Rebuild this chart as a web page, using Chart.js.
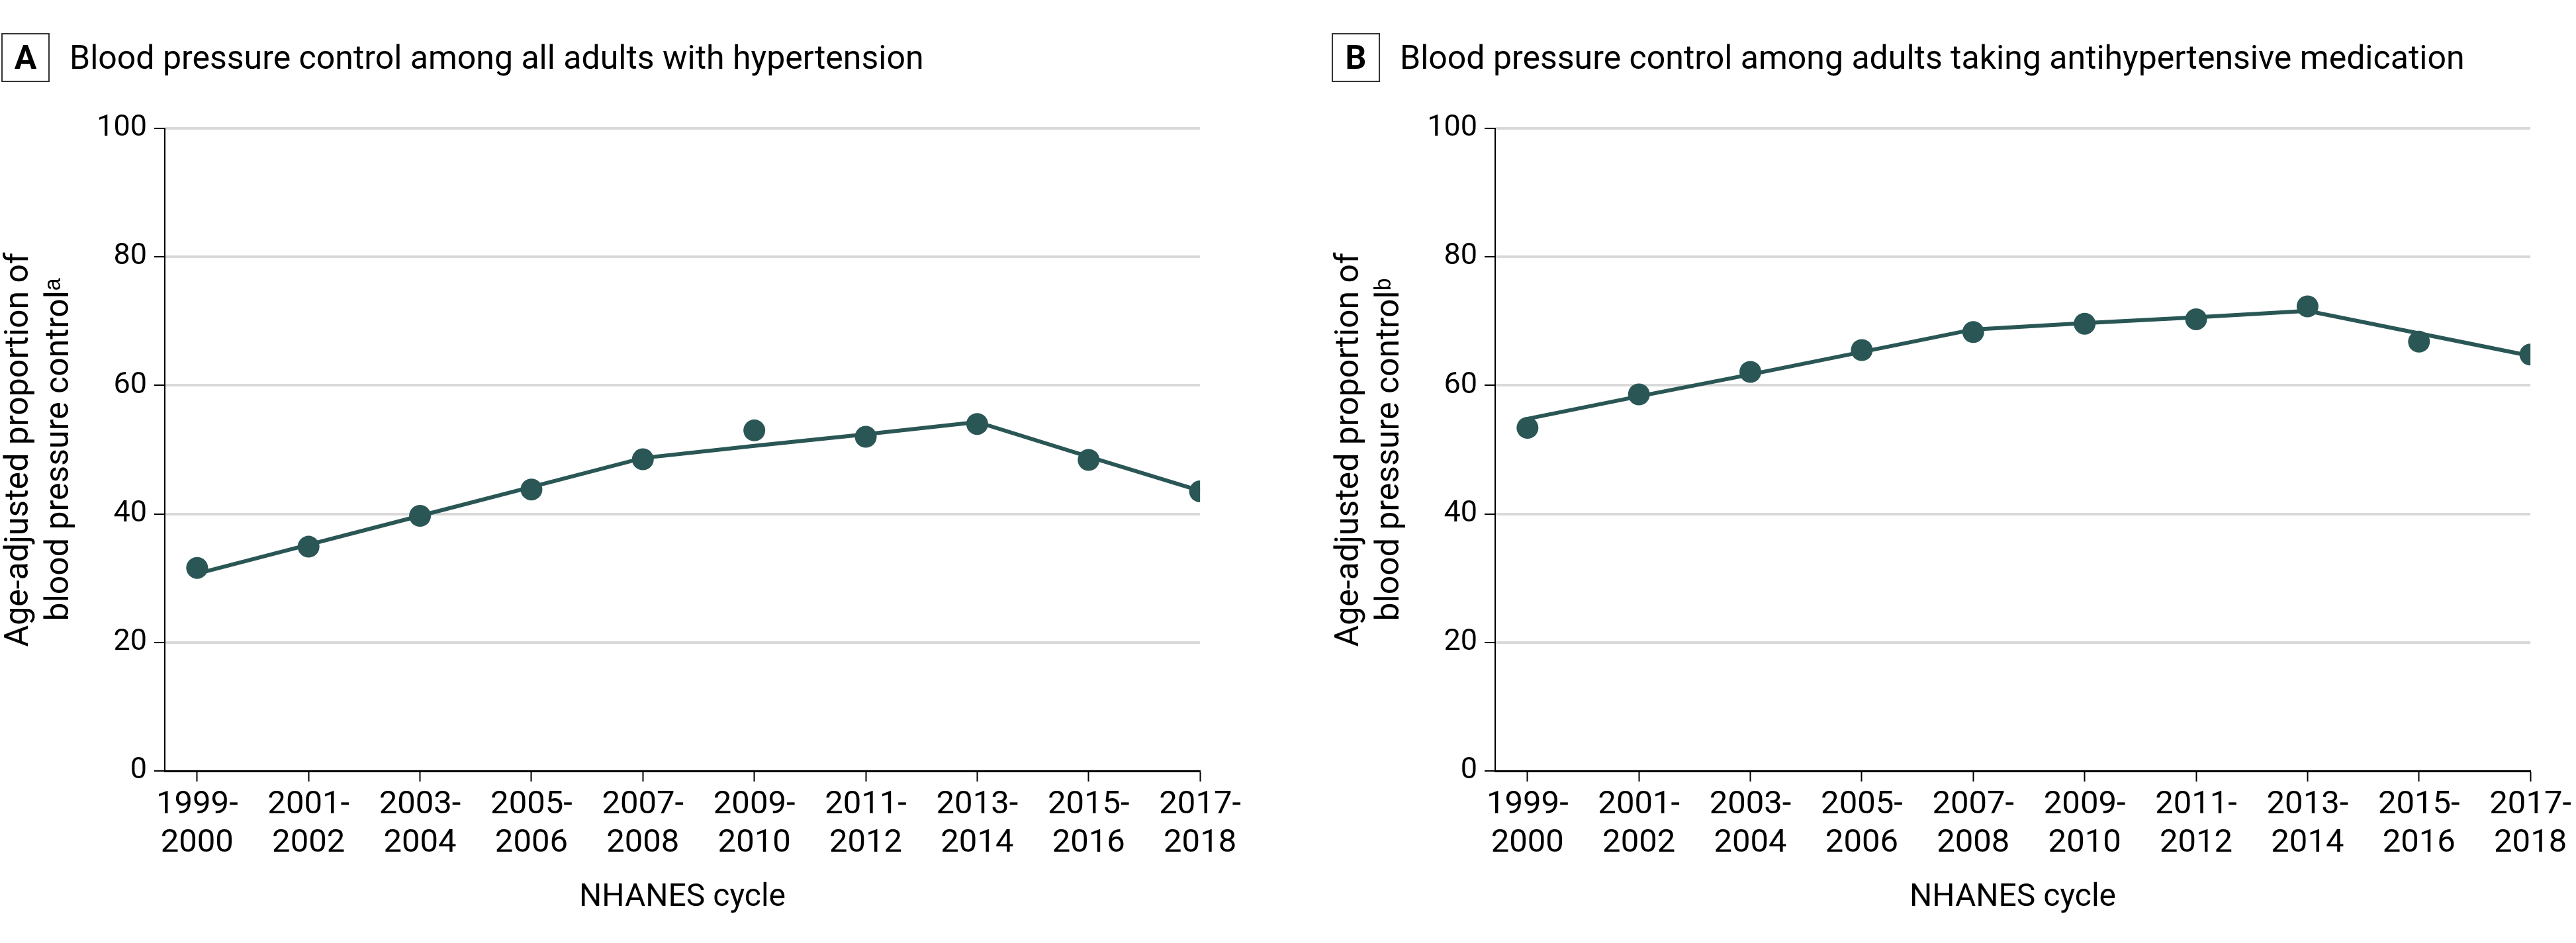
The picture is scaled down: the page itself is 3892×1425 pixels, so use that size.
<!DOCTYPE html>
<html>
<head>
<meta charset="utf-8">
<script src="https://cdn.jsdelivr.net/npm/chart.js@4.4.1/dist/chart.umd.min.js"></script>
<style>
  body { margin: 0; background: #fff; width: 3892px; height: 1425px; position: relative; overflow: hidden; font-family: Roboto, sans-serif; }
  .panel { position: absolute; top: 0; width: 1882px; height: 1425px; }
  .panel canvas { position: absolute; left: 0; top: 0; }
  .head { position: absolute; top: 50px; left: 2px; height: 74px; display: flex; align-items: center; white-space: nowrap; }
  .tag { box-sizing: border-box; width: 73px; height: 74px; border: 2.5px solid #333; font-weight: 700; font-size: 50px; display: flex; align-items: center; justify-content: center; color: #000; }
  .ttl { margin-left: 30px; font-size: 50px; color: #000; }
</style>
</head>
<body>
<div class="panel" style="left:0">
  <canvas id="chartA" width="1882" height="1425"></canvas>
  <div class="head"><div class="tag">A</div><div class="ttl">Blood pressure control among all adults with hypertension</div></div>
</div>
<div class="panel" style="left:2010px">
  <canvas id="chartB" width="1882" height="1425"></canvas>
  <div class="head"><div class="tag">B</div><div class="ttl">Blood pressure control among adults taking antihypertensive medication</div></div>
</div>
<script>
// NHANES cycles (x axis)
const cycleLabels = [
  ['1999-', '2000'], ['2001-', '2002'], ['2003-', '2004'], ['2005-', '2006'], ['2007-', '2008'],
  ['2009-', '2010'], ['2011-', '2012'], ['2013-', '2014'], ['2015-', '2016'], ['2017-', '2018']
];
const yTicks = [0, 20, 40, 60, 80, 100];

// Panel A: all adults with hypertension
const observedA = [31.6, 34.9, 39.7, 43.8, 48.5, 53.0, 52.0, 54.0, 48.4, 43.5];
const trendA = [30.7, 35.2, 39.7, 44.2, 48.7, 50.6, 52.4, 54.3, 48.9, 43.6];

// Panel B: adults taking antihypertensive medication
const observedB = [53.4, 58.6, 62.1, 65.5, 68.3, 69.6, 70.3, 72.3, 66.8, 64.8];
const trendB = [54.8, 58.3, 61.7, 65.2, 68.7, 69.7, 70.6, 71.6, 68.1, 64.6];

const teal = '#2a5755';
const fontFamily = 'Roboto, sans-serif';

function makeChart(id, observed, trend, yTitle) {
  const ctx = document.getElementById(id).getContext('2d');
  return new Chart(ctx, {
    type: 'line',
    data: {
      datasets: [
        {
          label: 'Observed',
          data: observed.map((v, i) => ({ x: i, y: v })),
          showLine: false,
          pointRadius: 16.5,
          pointBackgroundColor: teal,
          pointBorderColor: teal,
          pointBorderWidth: 0,
        },
        {
          label: 'Trend',
          data: trend.map((v, i) => ({ x: i, y: v })),
          borderColor: teal,
          borderWidth: 6,
          pointRadius: 0,
          tension: 0,
          fill: false,
        },
      ],
    },
    options: {
      responsive: false,
      animation: false,
      layout: { padding: { left: 0, top: 194, right: 66, bottom: 0 } },
      plugins: { legend: { display: false }, tooltip: { enabled: false } },
      scales: {
        x: {
          type: 'linear',
          min: -0.29,
          max: 9,
          afterBuildTicks: s => { s.ticks = cycleLabels.map((l, i) => ({ value: i })); },
          afterFit: s => { s.height = 260; },
          ticks: {
            callback: v => cycleLabels[v],
            color: '#000',
            font: { family: fontFamily, size: 49, lineHeight: '58px' },
            padding: 7,
            maxRotation: 0,
            autoSkip: false,
          },
          grid: { display: true, drawOnChartArea: false, drawTicks: true, tickLength: 16, tickColor: '#000', tickWidth: 2 },
          border: { display: true, color: '#000', width: 3 },
          title: {
            display: true,
            text: 'NHANES cycle',
            color: '#000',
            font: { family: fontFamily, size: 48, lineHeight: '56px' },
            padding: { top: 0, bottom: 40 },
          },
        },
        y: {
          min: 0,
          max: 100,
          afterBuildTicks: s => { s.ticks = yTicks.map(v => ({ value: v })); },
          afterFit: s => { s.width = 249; },
          ticks: {
            color: '#000',
            font: { family: fontFamily, size: 45 },
            padding: 11,
          },
          grid: { color: '#d9d9d9', lineWidth: 4, tickColor: '#000', tickLength: 16, tickWidth: 2 },
          border: { display: true, color: '#000', width: 2 },
          title: {
            display: true,
            text: yTitle,
            color: '#000',
            font: { family: fontFamily, size: 50, lineHeight: '61px' },
            padding: { top: -1.5, bottom: 0 },
          },
        },
      },
    },
  });
}

makeChart('chartA', observedA, trendA, ['Age-adjusted proportion of', 'blood pressure control\u1d43']);
makeChart('chartB', observedB, trendB, ['Age-adjusted proportion of', 'blood pressure control\u1d47']);
</script>
</body>
</html>
